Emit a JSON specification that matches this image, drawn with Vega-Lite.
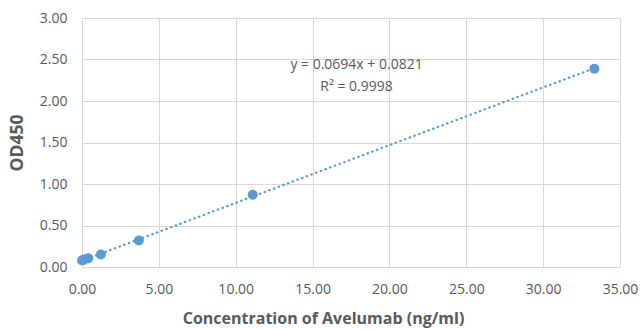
{
  "$schema": "https://vega.github.io/schema/vega-lite/v6.json",
  "autosize": "none",
  "width": 538,
  "height": 249,
  "padding": {"left": 82, "top": 18, "right": 20, "bottom": 62},
  "background": "white",
  "config": {
    "font": "Open Sans",
    "view": {"stroke": null},
    "axis": {
      "labelFont": "Open Sans",
      "titleFont": "Open Sans",
      "labelColor": "#595959",
      "titleColor": "#595959",
      "labelFontSize": 14,
      "titleFontSize": 16,
      "titleFontWeight": "bold",
      "gridColor": "#D9D9D9",
      "gridWidth": 1,
      "ticks": false,
      "labelFlush": false,
      "domainColor": "#D9D9D9"
    }
  },
  "datasets": {
    "points": [
      {"conc": 0.0, "od": 0.078},
      {"conc": 0.046, "od": 0.082},
      {"conc": 0.137, "od": 0.09},
      {"conc": 0.41, "od": 0.105},
      {"conc": 1.23, "od": 0.15},
      {"conc": 3.70, "od": 0.32},
      {"conc": 11.11, "od": 0.87},
      {"conc": 33.33, "od": 2.39}
    ],
    "labels": [
      {"x": 17.86, "y": 2.434, "text": "y = 0.0694x + 0.0821"},
      {"x": 17.86, "y": 2.169, "text": "R² = 0.9998"}
    ]
  },
  "layer": [
    {
      "data": {"name": "points"},
      "transform": [{"regression": "od", "on": "conc"}],
      "mark": {"type": "line", "color": "#5B9BD5", "strokeWidth": 2.25, "strokeDash": [0.5, 4.5], "strokeCap": "round"},
      "encoding": {
        "x": {"field": "conc", "type": "quantitative", "scale": {"domain": [0, 35], "nice": false}, "title": "Concentration of Avelumab (ng/ml)", "axis": {"values": [0, 5, 10, 15, 20, 25, 30, 35], "format": ".2f", "labelPadding": 15, "titlePadding": 14, "titleX": 241, "domain": true}},
        "y": {"field": "od", "type": "quantitative", "scale": {"domain": [0, 3], "nice": false}, "title": "OD450", "axis": {"values": [0, 0.5, 1, 1.5, 2, 2.5, 3], "format": ".2f", "labelPadding": 15, "titlePadding": 13, "titleFontSize": 17.5, "domain": false}}
      }
    },
    {
      "data": {"name": "points"},
      "mark": {"type": "circle", "color": "#5B9BD5", "opacity": 1, "size": 100},
      "encoding": {
        "x": {"field": "conc", "type": "quantitative"},
        "y": {"field": "od", "type": "quantitative"}
      }
    },
    {
      "data": {"name": "labels"},
      "mark": {"type": "text", "color": "#595959", "fontSize": 14, "font": "Open Sans", "align": "center", "baseline": "middle"},
      "encoding": {
        "x": {"field": "x", "type": "quantitative"},
        "y": {"field": "y", "type": "quantitative"},
        "text": {"field": "text"}
      }
    }
  ]
}
